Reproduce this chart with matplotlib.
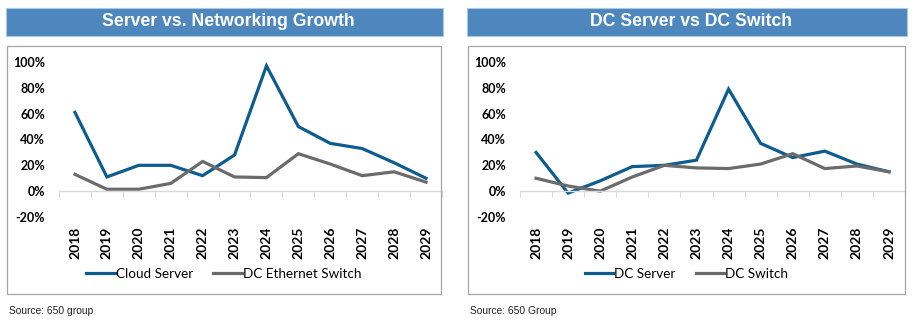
import matplotlib
matplotlib.use("Agg")
import matplotlib.pyplot as plt
from matplotlib.patches import Rectangle
from matplotlib.ticker import FuncFormatter, FixedLocator

years = ["2018", "2019", "2020", "2021", "2022", "2023",
         "2024", "2025", "2026", "2027", "2028", "2029"]

cloud_server = [0.61, 0.11, 0.20, 0.20, 0.12, 0.28, 0.97, 0.50, 0.37, 0.33, 0.22, 0.10]
dc_ethernet_switch = [0.13, 0.015, 0.015, 0.06, 0.23, 0.11, 0.105, 0.29, 0.21, 0.12, 0.15, 0.07]

dc_server = [0.30, -0.015, 0.08, 0.19, 0.20, 0.24, 0.79, 0.37, 0.26, 0.31, 0.21, 0.15]
dc_switch = [0.10, 0.04, 0.00, 0.11, 0.20, 0.18, 0.175, 0.21, 0.29, 0.175, 0.195, 0.15]

yticks = [-0.2, 0.0, 0.2, 0.4, 0.6, 0.8, 1.0]

W, H = 924, 328
BLUE = "#0E5C8F"
GREY = "#6B6B6B"
BANNER = "#4E87BE"
AXIS = "#D9D9D9"

fig = plt.figure(figsize=(W / 100, H / 100), dpi=100)
fig.patch.set_facecolor("white")


def fx(px):
    return px / W


def fy(py):
    return 1 - py / H


def panel(title, source, s1, s2, name1, name2, bx0, bx1, ax0, ax1):
    # title banner
    fig.add_artist(Rectangle((fx(bx0 - 1), fy(36)), fx(bx1 - bx0 + 3), fy(8) - fy(36),
                             transform=fig.transFigure, facecolor=BANNER,
                             edgecolor="#A9C9E8", linewidth=0.8))
    fig.text(fx((bx0 + bx1) / 2 + 4), fy(22), title, color="white",
             fontsize=12.7, fontweight="bold", family="Liberation Sans",
             ha="center", va="center")
    # chart frame
    fig.add_artist(Rectangle((fx(bx0), fy(294)), fx(bx1 - bx0), fy(46) - fy(294),
                             transform=fig.transFigure, facecolor="none",
                             edgecolor="#A6A6A6", linewidth=0.9))
    fig.text(fx(bx0 + 2), fy(311), source, fontsize=7.4, family="Liberation Sans",
             ha="left", va="center", color="#222222")

    ax = fig.add_axes([fx(ax0), fy(217), fx(ax1 - ax0), fy(62) - fy(217)])
    ax.set_facecolor("none")
    x = list(range(len(years)))
    ax.plot(x, s1, color=BLUE, linewidth=2.3, label=name1, solid_joinstyle="miter")
    ax.plot(x, s2, color=GREY, linewidth=2.3, label=name2, solid_joinstyle="miter")
    ax.set_xlim(-0.5, len(years) - 0.5)
    ax.set_ylim(-0.2, 1.0)

    for side in ("left", "right", "top"):
        ax.spines[side].set_visible(False)
    ax.spines["bottom"].set_position(("data", 0))
    ax.spines["bottom"].set_color(AXIS)
    ax.spines["bottom"].set_linewidth(1.0)
    ax.xaxis.set_major_locator(FixedLocator([i - 0.5 for i in range(len(years) + 1)]))
    ax.tick_params(axis="x", length=4, color=AXIS, labelbottom=False, direction="out")

    ax.set_yticks(yticks)
    ax.yaxis.set_major_formatter(FuncFormatter(lambda v, p: f"{v * 100:.0f}%"))
    ax.tick_params(axis="y", length=0, pad=10)
    for t in ax.get_yticklabels():
        t.set_fontsize(9)
        t.set_fontweight("bold")
        t.set_family("Lato")

    sec = ax.secondary_xaxis(0.0)
    sec.set_xticks(x)
    sec.set_xticklabels(years, rotation=90, fontsize=10, fontweight="bold", family="Lato")
    sec.tick_params(length=0, pad=7)
    sec.spines["bottom"].set_visible(False)

    fig.legend(handles=ax.get_lines(), labels=[name1, name2], loc="center",
               bbox_to_anchor=(fx((bx0 + bx1) / 2), fy(274)), ncol=2, frameon=False,
               prop={"family": "Lato", "size": 9.7}, handlelength=2.1,
               handletextpad=0.1, columnspacing=1.5, borderaxespad=0)
    return ax


panel("Server vs. Networking Growth", "Source: 650 group",
      cloud_server, dc_ethernet_switch, "Cloud Server", "DC Ethernet Switch",
      7, 441, 59, 442)
panel("DC Server vs DC Switch", "Source: 650 Group",
      dc_server, dc_switch, "DC Server", "DC Switch",
      468, 905, 520, 905)

fig.savefig("out.png", dpi=100, facecolor="white")
